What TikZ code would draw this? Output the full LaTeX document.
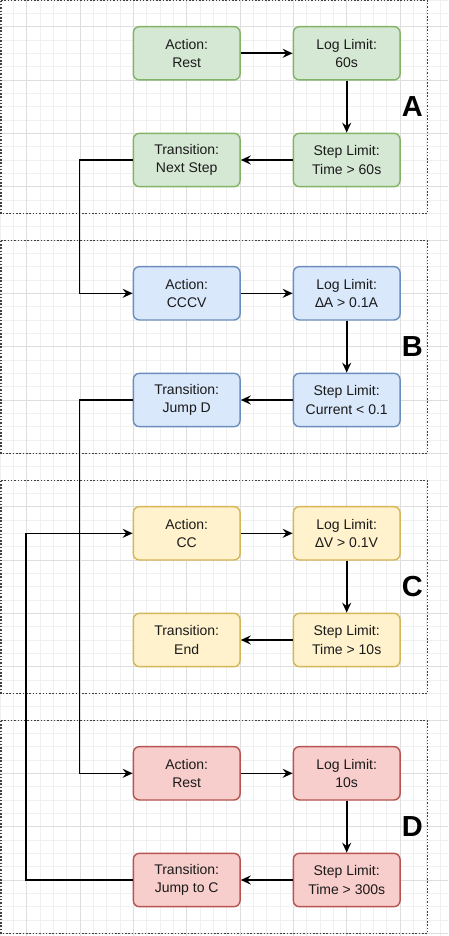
\documentclass[tikz,border=0pt]{standalone}
\usepackage{fontspec}
\setmainfont{Liberation Sans}
\usetikzlibrary{arrows.meta}
\definecolor{gfill}{HTML}{D5E8D4}\definecolor{gline}{HTML}{82B366}
\definecolor{bfill}{HTML}{DAE8FC}\definecolor{bline}{HTML}{6C8EBF}
\definecolor{yfill}{HTML}{FFF2CC}\definecolor{yline}{HTML}{D6B656}
\definecolor{rfill}{HTML}{F8CECC}\definecolor{rline}{HTML}{B85450}
\definecolor{gridmin}{HTML}{F0F0F0}\definecolor{gridmaj}{HTML}{DEDEDE}
\definecolor{txt}{HTML}{1A1A1A}
\tikzset{
  box/.style={rounded corners=6pt, minimum width=106.7pt, minimum height=53.3pt,
    inner sep=0pt, align=center, line width=1.4pt, text=txt,
    font=\fontsize{14}{18.3}\selectfont},
  gbox/.style={box, fill=gfill, draw=gline},
  bbox/.style={box, fill=bfill, draw=bline},
  ybox/.style={box, fill=yfill, draw=yline},
  rbox/.style={box, fill=rfill, draw=rline},
  conn/.style={line width=1.6pt, black},
  arr/.style={conn, -{Stealth[length=10pt,width=9pt,inset=3.5pt]}},
  frame/.style={draw=black!75, line width=1.1pt, dash pattern=on 1.5pt off 1.8pt},
  lbl/.style={font=\fontsize{29}{29}\selectfont\bfseries, text=black, inner sep=0pt},
  gmin/.style={draw=gridmin, line width=0.9pt},
  gmaj/.style={draw=gridmaj, line width=0.9pt}
}
\begin{document}
\begin{tikzpicture}[x=1pt,y=-1pt]
\useasboundingbox (0,0) rectangle (448,936);
\fill[white] (0,0) rectangle (448,936);
% grid
\foreach \i in {0,...,33} \draw[gmin] ({\i*13.3333},0) -- ({\i*13.3333},936);
\foreach \i in {0,...,70} \draw[gmin] (0,{\i*13.3333}) -- (448,{\i*13.3333});
\foreach \i in {0,...,7} \draw[gmaj] ({26.6667+\i*53.3333},0) -- ({26.6667+\i*53.3333},936);
\foreach \i in {0,...,17} \draw[gmaj] (0,{26.6667+\i*53.3333}) -- (448,{26.6667+\i*53.3333});
% frames
\foreach \b in {0,1,2,3} \draw[frame] (1,{0.7+240*\b}) rectangle (427.7,{213.3+240*\b});
% block A
\node[gbox] (a1) at (186.7,53.3) {Action:\\Rest};
\node[gbox] (l1) at (346.7,53.3) {Log Limit:\\60s};
\node[gbox] (s1) at (346.7,160) {Step Limit:\\Time > 60s};
\node[gbox] (t1) at (186.7,160) {Transition:\\Next Step};
\node[lbl] (la) at (412.3,107) {A};
% block B
\node[bbox] (a2) at (186.7,293.3) {Action:\\CCCV};
\node[bbox] (l2) at (346.7,293.3) {Log Limit:\\∆A > 0.1A};
\node[bbox] (s2) at (346.7,400) {Step Limit:\\Current < 0.1};
\node[bbox] (t2) at (186.7,400) {Transition:\\Jump D};
\node[lbl] (lb) at (412.3,347) {B};
% block C
\node[ybox] (a3) at (186.7,533.3) {Action:\\CC};
\node[ybox] (l3) at (346.7,533.3) {Log Limit:\\∆V > 0.1V};
\node[ybox] (s3) at (346.7,640) {Step Limit:\\Time > 10s};
\node[ybox] (t3) at (186.7,640) {Transition:\\End};
\node[lbl] (lc) at (412.3,587) {C};
% block D
\node[rbox] (a4) at (186.7,773.3) {Action:\\Rest};
\node[rbox] (l4) at (346.7,773.3) {Log Limit:\\10s};
\node[rbox] (s4) at (346.7,880) {Step Limit:\\Time > 300s};
\node[rbox] (t4) at (186.7,880) {Transition:\\Jump to C};
\node[lbl] (ld) at (412.3,827) {D};
% connectors within blocks
\foreach \k in {1,2,3,4} {
  \draw[arr] (a\k.east) -- (l\k.west);
  \draw[arr] (l\k.south) -- (s\k.north);
  \draw[arr] (s\k.west) -- (t\k.east);
}
% inter-block connectors
\draw[arr] (t1.west) -- ++(-53.3,0) |- (a2.west);
\draw[arr] (t2.west) -- ++(-53.3,0) |- (a4.west);
\draw[arr] (t4.west) -- ++(-106.7,0) |- (a3.west);
\end{tikzpicture}
\end{document}
